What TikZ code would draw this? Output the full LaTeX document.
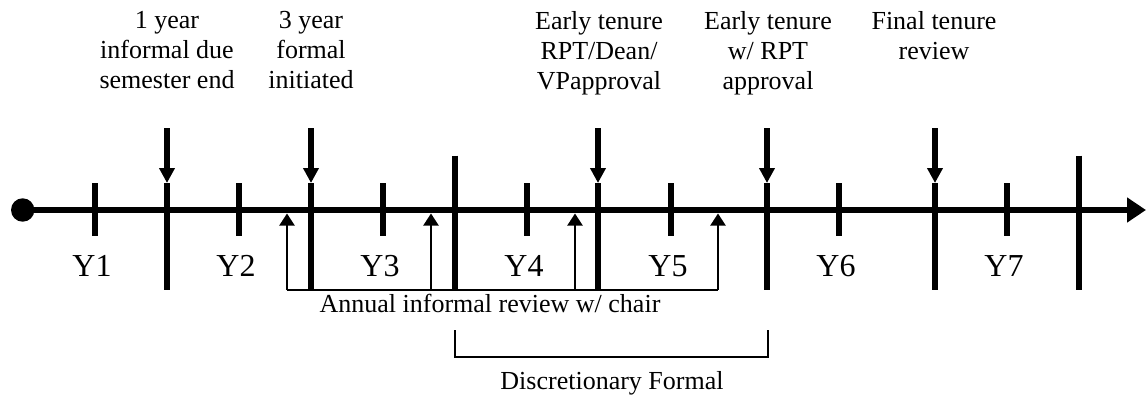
\documentclass[tikz,border=0pt]{standalone}
\usepackage{fontspec}
\setmainfont{Liberation Serif}
\usetikzlibrary{arrows.meta}
\begin{document}
\begin{tikzpicture}[x=1pt,y=-1pt,
  axis/.style={line width=6.7pt,-{Triangle[length=19pt,width=24pt]}},
  tickline/.style={line width=6.7pt},
  downarrow/.style={line width=5.3pt,-{Triangle[length=15pt,width=15pt]}},
  uparrow/.style={line width=2pt,-{Triangle[length=12pt,width=15pt]}},
  thinline/.style={line width=2pt},
  toplabel/.style={anchor=north,inner sep=0pt,align=center,font=\fontsize{26}{30}\selectfont},
  ylabel/.style={anchor=base,inner sep=0pt,font=\fontsize{32}{36}\selectfont},
  notelabel/.style={anchor=base,inner sep=0pt,font=\fontsize{26}{30}\selectfont}]
\useasboundingbox (0,0) rectangle (1146,396);

% main axis
\coordinate (start) at (22.7,210);
\coordinate (end) at (1146,210);
\draw[axis] (start) -- (end);
\fill (start) circle[radius=11.7];

% short ticks with year labels
\foreach \n/\x in {1/95,2/239,3/383,4/527,5/671,6/839,7/1007}{
  \coordinate (s\n-a) at (\x,183);
  \coordinate (s\n-b) at (\x,236);
  \draw[tickline] (s\n-a) -- (s\n-b);
  \node[ylabel] (y\n) at (\x-3,276) {Y\n};
}

% long ticks with down arrows
\foreach \n/\x in {1/167,2/311,3/598,4/767,5/935}{
  \coordinate (l\n-a) at (\x,183);
  \coordinate (l\n-b) at (\x,290);
  \coordinate (d\n) at (\x,128);
  \draw[tickline] (l\n-a) -- (l\n-b);
  \draw[downarrow] (d\n) -- (l\n-a);
}

% tall ticks
\foreach \n/\x in {1/455,2/1079}{
  \coordinate (h\n-a) at (\x,155.7);
  \coordinate (h\n-b) at (\x,290);
  \draw[tickline] (h\n-a) -- (h\n-b);
}

% top labels
\node[toplabel] (lab1) at (167,11) {1 year\\informal due\\semester end};
\node[toplabel] (lab2) at (311,11) {3 year\\formal\\initiated};
\node[toplabel] (lab3) at (599,11) {Early tenure\\RPT/Dean/\\VPapproval};
\node[toplabel] (lab4) at (768,11) {Early tenure\\w/ RPT\\approval};
\node[toplabel] (lab5) at (934,11) {Final tenure\\review};

% annual informal review bracket
\foreach \n/\x in {1/287,2/431,3/575,4/718}{
  \coordinate (u\n-a) at (\x,290);
  \coordinate (u\n-b) at (\x,213.5);
  \draw[uparrow] (u\n-a) -- (u\n-b);
}
\draw[thinline] (u1-a) -- (u4-a);
\node[notelabel] (annual) at (490,312) {Annual informal review w/ chair};

% discretionary formal bracket
\coordinate (b1) at (455,330);
\coordinate (b2) at (455,357);
\coordinate (b3) at (768,357);
\coordinate (b4) at (768,330);
\draw[thinline] (b1) -- (b2) -- (b3) -- (b4);
\node[notelabel] (disc) at (612,389) {Discretionary Formal};
\end{tikzpicture}
\end{document}
